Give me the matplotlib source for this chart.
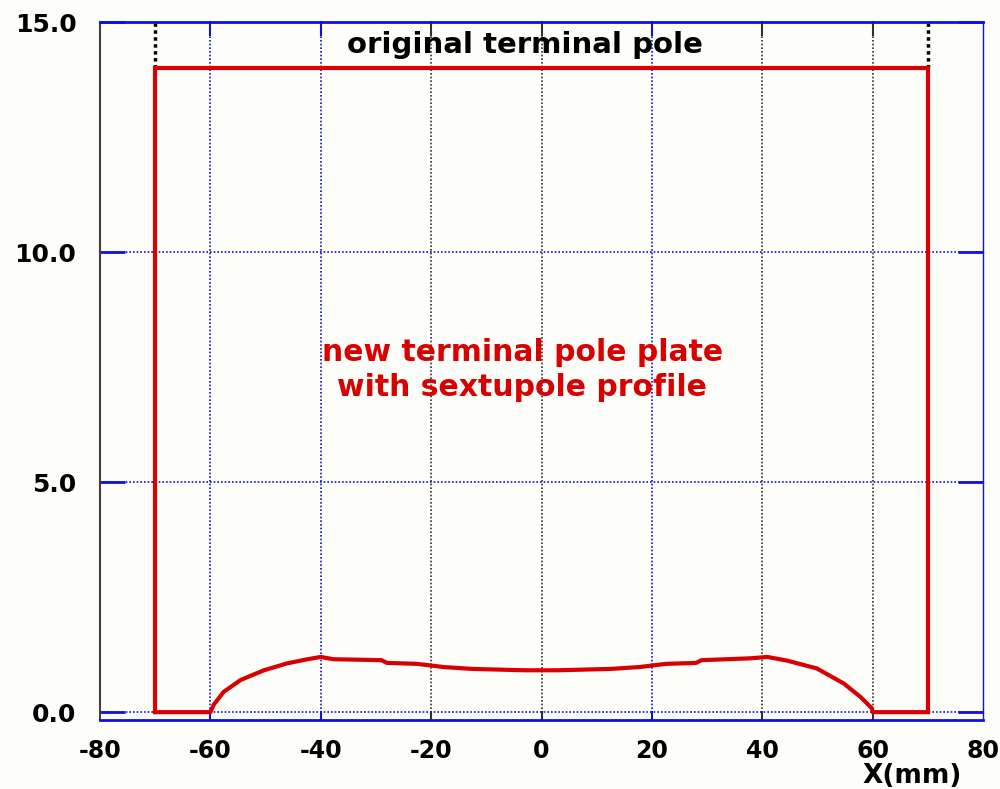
import matplotlib.pyplot as plt
import numpy as np

# pole outline (original terminal pole)
pole_x = [-70, -70, 70, 70]
pole_y = [0.0, 14.0, 14.0, 0.0]

# new plate: flat ends + sextupole profile
profile_x = [-70, -60, -59.4, -57.6, -54.5, -50.3, -46.1, -42.4, -40, -37.7, -29, -28,
             -22.6, -17.7, -12.6, -3, 3, 12.6, 17.7, 22.6, 28, 29, 37.9, 40.9,
             44.5, 49.9, 54.8, 57.8, 59.9, 60, 70]
profile_y = [0.0, 0.0, 0.16, 0.44, 0.70, 0.91, 1.06, 1.15, 1.20, 1.15, 1.13, 1.07,
             1.05, 0.98, 0.94, 0.91, 0.91, 0.94, 0.98, 1.05, 1.07, 1.13, 1.17, 1.20,
             1.12, 0.95, 0.62, 0.33, 0.08, 0.0, 0.0]

xticks = [-80, -60, -40, -20, 0, 20, 40, 60, 80]
xtick_labels = ["-80", "-60", "-40", "-20", "0", "20", "40", "60", "80"]
yticks = [0.0, 5.0, 10.0, 15.0]
ytick_labels = ["0.0", "5.0", "10.0", "15.0"]

BLUE = "#1010e0"
RED = "#d80000"
bg = "#fdfdfa"

fig = plt.figure(figsize=(10, 7.89), dpi=100, facecolor=bg)
ax = fig.add_axes([0.1, 0.0875, 0.883, 0.8845], facecolor=bg)

ax.set_xlim(-80, 80)
ax.set_ylim(-0.17, 15.0)

# grid colours differ per vertical line
grid_colors = {-60: BLUE, -40: BLUE, -20: "#303030", 0: "#303030",
               20: BLUE, 40: "#303030", 60: "#303030"}
for x, c in grid_colors.items():
    ax.axvline(x, color=c, lw=1.2, ls=(0, (1, 1.2)), zorder=1)
    ax.plot([x, x], [15.0, 14.72], color=c, lw=1.5, zorder=1, clip_on=False)
    ax.plot([x, x], [-0.17, 0.0], color=c, lw=1.5, zorder=1)
for y in [0.0, 5.0, 10.0]:
    ax.axhline(y, color=BLUE, lw=1.2, ls=(0, (1, 1.2)), zorder=1)

# thick dotted markers above the old pole edges
for x in [-70, 70]:
    ax.plot([x, x], [14.0, 15.0], color="black", lw=2.5, ls=(0, (1, 1)), zorder=2)

ax.plot(pole_x, pole_y, color=RED, lw=3, zorder=3, solid_joinstyle="miter")
ax.plot(profile_x, profile_y, color=RED, lw=3, zorder=3)

ax.text(-3, 14.5, "original terminal pole", ha="center", va="center",
        fontsize=21, fontweight="bold", color="black")
ax.text(-3.5, 7.43, "new terminal pole plate\nwith sextupole profile", ha="center",
        va="center", fontsize=21.5, fontweight="bold", color=RED, linespacing=1.25)

ax.set_xticks(xticks)
ax.set_xticklabels(xtick_labels)
ax.set_yticks(yticks)
ax.set_yticklabels(ytick_labels)
ax.tick_params(axis="x", length=0, pad=14, labelsize=17)
ax.tick_params(axis="y", direction="in", length=18, width=2, color=BLUE,
               left=True, right=True, pad=17, labelsize=18)
for lab in ax.get_xticklabels() + ax.get_yticklabels():
    lab.set_fontweight("bold")

ax.text(0.92, -0.08, "X(mm)", transform=ax.transAxes, ha="center",
        va="center", fontsize=19, fontweight="bold")

ax.spines["left"].set_color("#404040")
ax.spines["left"].set_linewidth(1.5)
for s in ["top", "right", "bottom"]:
    ax.spines[s].set_color(BLUE)
ax.spines["top"].set_linewidth(2)
ax.spines["bottom"].set_linewidth(2)
ax.spines["right"].set_linewidth(1)

fig.savefig("out.png", dpi=100, facecolor=bg)
